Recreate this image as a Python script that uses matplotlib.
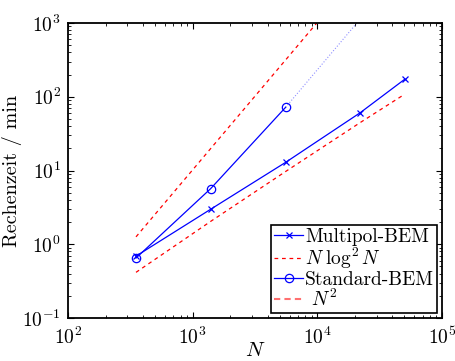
import numpy as np
import matplotlib
matplotlib.use("Agg")
import matplotlib.pyplot as plt
from matplotlib.ticker import LogLocator, NullFormatter

plt.rcParams['font.family'] = 'serif'
plt.rcParams['font.serif'] = ['cmr10', 'DejaVu Serif']
plt.rcParams['mathtext.fontset'] = 'cm'
plt.rcParams['axes.formatter.use_mathtext'] = True

n_multipol = [351, 1393, 5570, 22100, 50100]
t_multipol = [0.69, 2.98, 12.9, 60.8, 172]

n_standard = [351, 1393, 5570]
t_standard = [0.65, 5.67, 72]

# Extrapolation Standard-BEM (gepunktet)
n_extra = [5570, 22100]
t_extra = [72, 1133]

# Referenzgeraden
n_nlog = [351, 1393, 5570, 22100, 50100]
t_nlog = [0.416, 2.04, 9.7, 44.7, 108]

n_quad = [351, 1393, 5570, 10000]
t_quad = [1.26, 19.8, 316, 1020]

fig = plt.figure(figsize=(4.55, 3.61), dpi=100)
ax = fig.add_axes([0.1495, 0.1191, 0.8219, 0.8172])

ax.plot(n_extra, t_extra, ':', color='#9090ff', lw=0.8)
ax.plot(n_quad, t_quad, '--', color='red', lw=0.9, dashes=(3, 3))
ax.plot(n_nlog, t_nlog, '--', color='red', lw=0.9, dashes=(3, 3))

l1, = ax.plot(n_multipol, t_multipol, '-x', color='blue', lw=0.9, ms=4, mew=0.9)
l3, = ax.plot(n_standard, t_standard, '-o', color='blue', lw=0.9, ms=6,
              mfc='none', mew=0.9)
# Legendeneintraege
l2, = ax.plot([], [], '--', color='red', lw=0.9, dashes=(3, 3))
l4, = ax.plot([], [], '--', color='#ff7070', lw=1.5, dashes=(3, 2))

ax.set_xscale('log')
ax.set_yscale('log')
ax.set_xlim(1e2, 1e5)
ax.set_ylim(1e-1, 1e3)

ax.xaxis.set_major_locator(LogLocator(base=10, numticks=10))
ax.yaxis.set_major_locator(LogLocator(base=10, numticks=10))
ax.xaxis.set_minor_locator(LogLocator(base=10, subs=np.arange(2, 10), numticks=20))
ax.yaxis.set_minor_locator(LogLocator(base=10, subs=np.arange(2, 10), numticks=20))
ax.xaxis.set_minor_formatter(NullFormatter())
ax.yaxis.set_minor_formatter(NullFormatter())

ax.tick_params(which='both', direction='in', top=True, right=True, labelsize=14)
ax.tick_params(which='major', length=4, width=0.8)
ax.tick_params(axis='x', which='major', pad=6)
ax.tick_params(axis='y', which='major', pad=5)
ax.tick_params(which='minor', length=2, width=0.6)
for s in ax.spines.values():
    s.set_linewidth(1.3)

ax.set_xlabel(r'$N$', fontsize=15, labelpad=-4)
ax.set_ylabel('Rechenzeit / min', fontsize=14.5, labelpad=0)

leg = ax.legend([l1, l2, l3, l4],
                ['Multipol-BEM', r'$N\;\log^2 N$', 'Standard-BEM', r' $N^2$'],
                loc='lower right', fontsize=14, fancybox=False,
                edgecolor='black', framealpha=1, borderpad=0.15,
                labelspacing=0.0, handlelength=1.5, handletextpad=0.1,
                borderaxespad=0.25)
leg.get_frame().set_linewidth(1.2)

fig.savefig('out.png', dpi=100)
